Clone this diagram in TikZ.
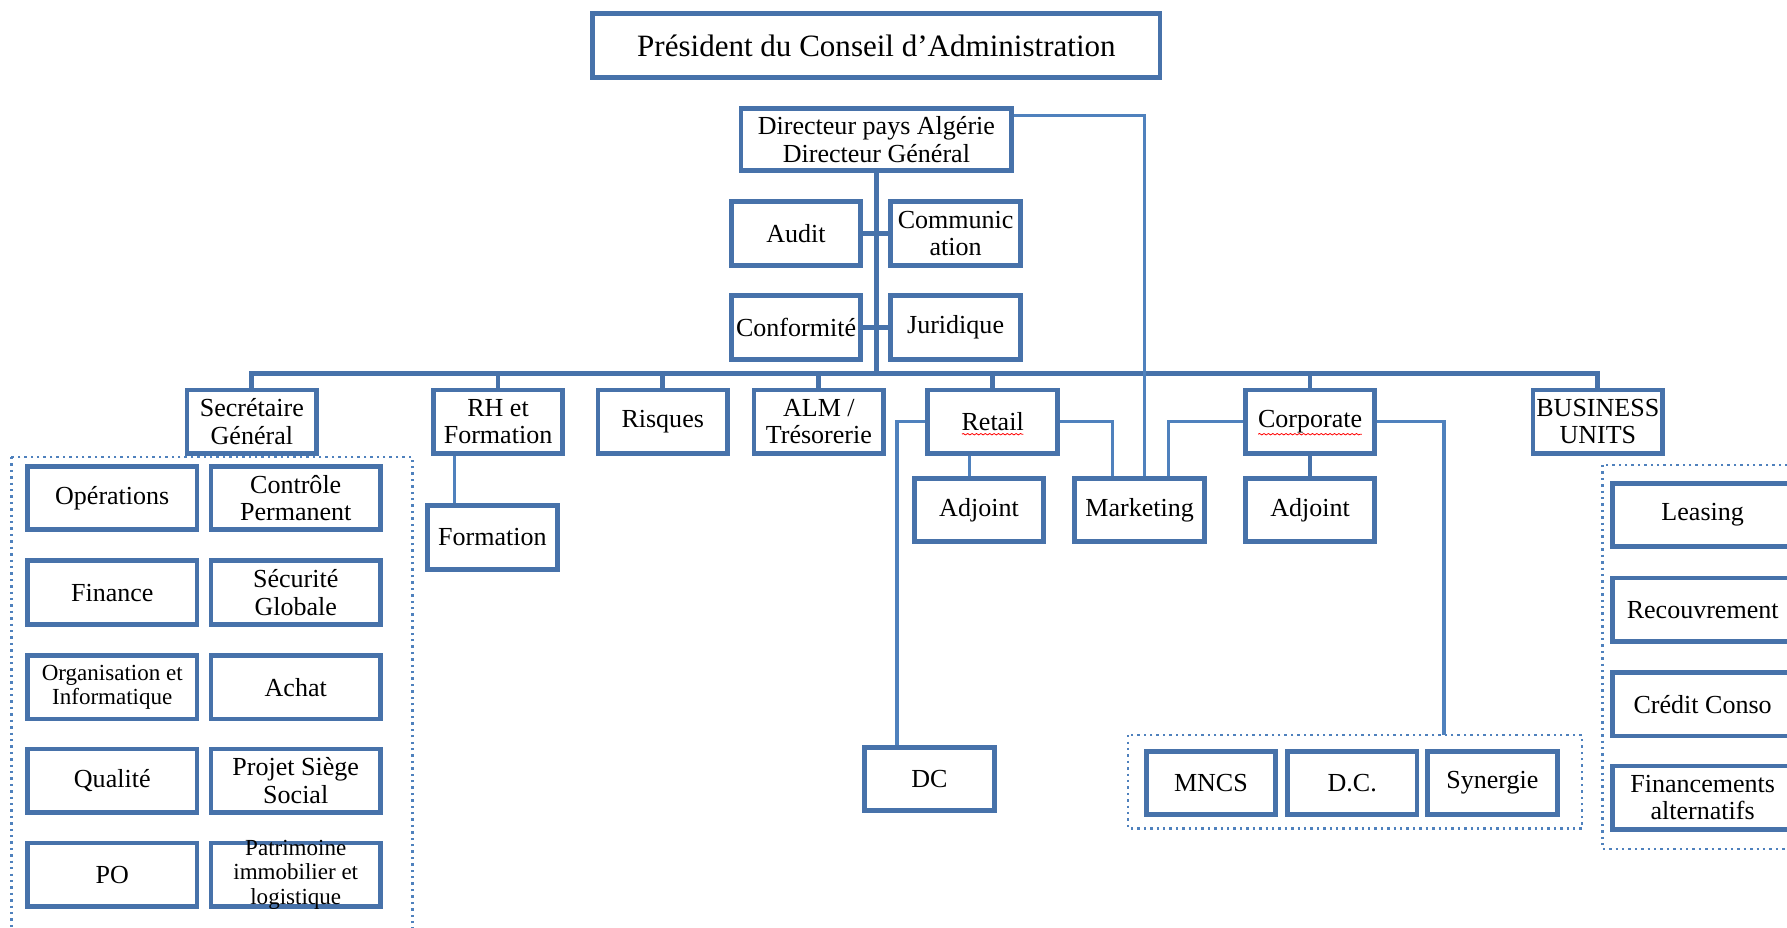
\documentclass[tikz,border=0pt]{standalone}
\usepackage{fontspec}
\setmainfont{Liberation Serif}
\usetikzlibrary{decorations.pathmorphing}

\definecolor{boxblue}{RGB}{71,114,170}
\definecolor{lineblue}{RGB}{79,129,189}

\begin{document}
\begin{tikzpicture}[x=0.02cm, y=-0.02cm,
    unit/.style={draw=boxblue, line width=2.4pt, fill=white, align=center,
                 minimum width=2.275cm, minimum height=1.115cm, inner sep=1pt,
                 font=\fontsize{13}{13.6}\selectfont},
    wide/.style={unit, minimum width=2.975cm},
    buunit/.style={unit, minimum width=3.155cm},
    small/.style={font=\fontsize{11.5}{12.2}\selectfont},
    link/.style={draw=lineblue, line width=1.6pt},
    trunk/.style={draw=boxblue, line width=2.4pt},
    group/.style={draw=lineblue, line width=1.2pt, dotted},
    squiggle/.style={draw=red, line width=0.4pt, decorate,
                     decoration={snake, amplitude=0.35pt, segment length=2.2pt}}]
    \useasboundingbox (0, 0) rectangle (1568, 814);
    \clip (0, 0) rectangle (1568, 814);

    % Dotted groups
    \draw [group] (10, 401) rectangle (362, 840);
    \draw [group] (990, 645) rectangle (1388, 727);
    \draw [group] (1406, 408) rectangle (1600, 745);

    % Board and general management
    \node (pca) [unit, minimum width=9.955cm, font=\fontsize{15.5}{16}\selectfont]
          at (769, 40) {Président du Conseil d’Administration};
    \node (dg) [unit, minimum width=4.755cm, minimum height=1.095cm]
          at (769, 122.5) {Directeur pays Algérie\\Directeur Général};

    % Staff functions
    \node (audit) [unit] at (698.5, 205) {Audit};
    \node (comm) [unit] at (838.5, 205) {Communic\\ation};
    \node (conf) [unit] at (698.5, 287.5) {Conformité};
    \node (jur) [unit] at (838.5, 287.5) {Juridique};

    % Directions
    \node (sg) [unit] at (221, 370) {Secrétaire\\Général};
    \node (rh) [unit] at (437, 370) {RH et\\Formation};
    \node (risk) [unit] at (581.5, 370) {Risques};
    \node (alm) [unit] at (718.5, 370) {ALM /\\Trésorerie};
    \node (retail) [unit] at (871, 370) {Retail};
    \node (corp) [unit] at (1149.5, 370) {Corporate};
    \node (bu) [unit] at (1402, 370) {BUSINESS\\UNITS};

    % Under the directions
    \node (form) [unit] at (432, 471.5) {Formation};
    \node (adjr) [unit] at (859, 447.5) {Adjoint};
    \node (mkt) [unit] at (1000, 447.5) {Marketing};
    \node (adjc) [unit] at (1149.5, 447.5) {Adjoint};
    \node (dc) [unit] at (815.5, 683.5) {DC};
    \node (mncs) [unit] at (1062.5, 687) {MNCS};
    \node (dcc) [unit] at (1186.5, 687) {D.C.};
    \node (syn) [unit] at (1309.5, 687) {Synergie};

    % Secretariat general
    \node (ops) [wide] at (98.5, 437) {Opérations};
    \node (cp) [wide] at (259.5, 437) {Contrôle\\Permanent};
    \node (fin) [wide] at (98.5, 520) {Finance};
    \node (secu) [wide] at (259.5, 520) {Sécurité\\Globale};
    \node (oi) [wide, small] at (98.5, 603) {Organisation et\\Informatique};
    \node (achat) [wide] at (259.5, 603) {Achat};
    \node (qual) [wide] at (98.5, 685) {Qualité};
    \node (projet) [wide] at (259.5, 685) {Projet Siège\\Social};
    \node (po) [wide] at (98.5, 767.5) {PO};
    \node (patri) [wide, small, inner ysep=-3pt] at (259.5, 767.5)
          {Patrimoine\\immobilier et\\logistique};

    % Business units
    \node (leasing) [buunit] at (1494, 452) {Leasing};
    \node (recouv) [buunit] at (1494, 535) {Recouvrement};
    \node (conso) [buunit] at (1494, 618) {Crédit Conso};
    \node (altern) [buunit] at (1494, 700) {Financements\\alternatifs};

    % Edges
    \coordinate (bar) at (0, 328);
    \draw [trunk] (dg.south) -- (dg.south |- bar);
    \draw [trunk] (audit.east) -- (comm.west);
    \draw [trunk] (conf.east) -- (jur.west);
    \draw [trunk] (sg.north) -- (sg.north |- bar) -- (bu.north |- bar) -- (bu.north);
    \draw [trunk] (rh.north) -- (rh.north |- bar);
    \draw [trunk] (risk.north) -- (risk.north |- bar);
    \draw [trunk] (alm.north) -- (alm.north |- bar);
    \draw [trunk] (retail.north) -- (retail.north |- bar);
    \draw [trunk] (corp.north) -- (corp.north |- bar);
    \draw [trunk] (corp.south) -- (adjc.north);

    % Side links
    \draw [link] ([yshift=-0.16cm]dg.north east) -| ([xshift=0.08cm]mkt.north);
    \draw [link] ([xshift=-0.76cm]rh.south) -- ([xshift=-0.76cm]rh.south |- form.north);
    \draw [link] ([xshift=-0.4cm]retail.south) -- ([xshift=-0.4cm]retail.south |- adjr.north);
    \draw [link] (retail.west) -| ([xshift=-0.57cm]dc.north);
    \draw [link] (retail.east) -| ([xshift=-0.48cm]mkt.north);
    \draw [link] (corp.west) -| ([xshift=0.5cm]mkt.north);
    \coordinate (corpgroup) at (1267, 645);
    \draw [link] (corp.east) -| (corpgroup);

    % Spelling marks
    \draw [squiggle] ([xshift=-0.54cm, yshift=-0.22cm]retail.center)
          -- ([xshift=0.54cm, yshift=-0.22cm]retail.center);
    \draw [squiggle] ([xshift=-0.91cm, yshift=-0.22cm]corp.center)
          -- ([xshift=0.91cm, yshift=-0.22cm]corp.center);
\end{tikzpicture}
\end{document}
